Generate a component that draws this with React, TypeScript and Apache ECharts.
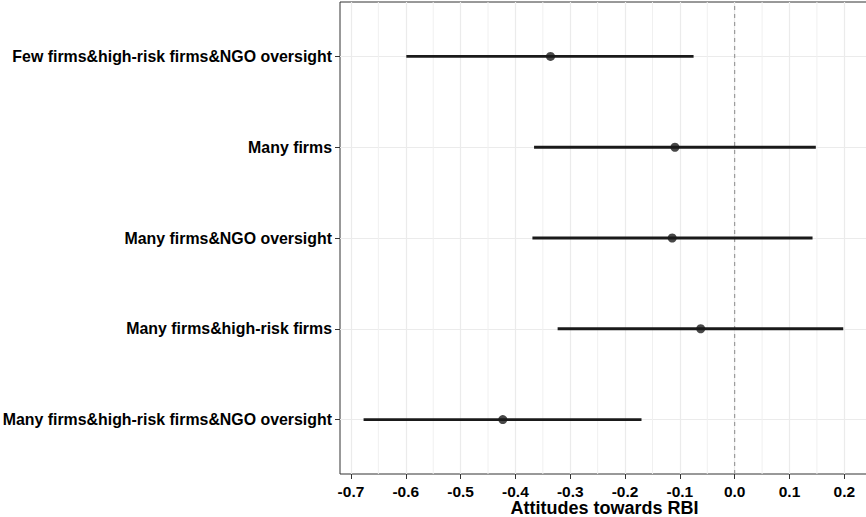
import React, { useEffect, useRef } from 'react';
import * as echarts from 'echarts';

const categories = [
  'Few firms&high-risk firms&NGO oversight',
  'Many firms',
  'Many firms&NGO oversight',
  'Many firms&high-risk firms',
  'Many firms&high-risk firms&NGO oversight',
];
const yPositions = [5, 4, 3, 2, 1];
const estimates = [-0.336, -0.109, -0.114, -0.062, -0.423];
const lowerCI = [-0.599, -0.366, -0.369, -0.323, -0.677];
const upperCI = [-0.075, 0.148, 0.142, 0.198, -0.17];
const xTickValues = [-0.7, -0.6, -0.5, -0.4, -0.3, -0.2, -0.1, 0, 0.1, 0.2];
const xMinorValues = [-0.65, -0.55, -0.45, -0.35, -0.25, -0.15, -0.05, 0.05, 0.15];
const referenceValues = [0];
const xAxisTitle = 'Attitudes towards RBI';

const FONT = '"Liberation Sans", Arial, Helvetica, sans-serif';
const Y_MIN = 0.4;
const Y_MAX = 5.6;

export default function App() {
  const ref = useRef<HTMLDivElement>(null);
  useEffect(() => {
    if (!ref.current) return;
    const chart = echarts.init(ref.current, null, { renderer: 'svg' });
    const option: any = {
      animation: false,
      backgroundColor: '#ffffff',
      grid: {
        left: 340,
        right: -3,
        top: 2,
        bottom: 43,
        containLabel: false,
        outerBoundsMode: 'none',
        show: true,
        borderColor: '#333333',
        borderWidth: 1,
        backgroundColor: 'transparent',
      },
      xAxis: {
        type: 'value',
        min: -0.72,
        max: 0.245,
        splitNumber: 10,
        name: xAxisTitle,
        nameLocation: 'middle',
        nameGap: 25,
        nameMoveOverlap: false,
        nameTextStyle: {
          fontFamily: FONT,
          fontWeight: 'bold',
          fontSize: 18,
          color: '#000',
          verticalAlign: 'top',
        },
        axisLine: { show: false, onZero: false },
        axisTick: {
          show: true,
          length: 5,
          customValues: xTickValues,
          lineStyle: { color: '#333333', width: 1 },
        },
        axisLabel: {
          customValues: xTickValues,
          margin: 9,
          fontFamily: FONT,
          fontWeight: 'bold',
          fontSize: 15.5,
          color: '#000',
          formatter: (v: number) => {
            const r = Math.round(v * 10) / 10;
            return Math.abs(v - r) < 1e-6 ? r.toFixed(1) : '';
          },
        },
        splitLine: { show: true, lineStyle: { color: '#ebebeb', width: 1.2 } },
      },
      yAxis: {
        type: 'value',
        min: Y_MIN,
        max: Y_MAX,
        splitNumber: 5,
        axisLine: { show: false, onZero: false },
        axisTick: {
          show: true,
          length: 5,
          customValues: yPositions,
          lineStyle: { color: '#333333', width: 1 },
        },
        axisLabel: {
          customValues: yPositions,
          margin: 8,
          fontFamily: FONT,
          fontWeight: 'bold',
          fontSize: 15.9,
          color: '#000',
          formatter: (v: number) => {
            const r = Math.round(v);
            if (Math.abs(v - r) > 1e-6) return '';
            const i = yPositions.indexOf(r);
            return i >= 0 ? categories[i] : '';
          },
        },
        splitLine: { show: true, lineStyle: { color: '#ebebeb', width: 1.2 } },
      },
      series: [
        {
          type: 'custom',
          z: 1,
          silent: true,
          data: xMinorValues.map((v) => [v]),
          encode: { x: 0 },
          renderItem: (_p: any, api: any) => {
            const v = api.value(0);
            const a = api.coord([v, Y_MIN]);
            const b = api.coord([v, Y_MAX]);
            return {
              type: 'line',
              shape: { x1: a[0], y1: a[1], x2: b[0], y2: b[1] },
              style: { stroke: '#f0f0f0', lineWidth: 1 },
            };
          },
        },
        {
          type: 'custom',
          z: 2,
          silent: true,
          data: referenceValues.map((v) => [v]),
          encode: { x: 0 },
          renderItem: (_p: any, api: any) => {
            const v = api.value(0);
            const a = api.coord([v, Y_MIN]);
            const b = api.coord([v, Y_MAX]);
            return {
              type: 'line',
              shape: { x1: a[0], y1: a[1], x2: b[0], y2: b[1] },
              style: { stroke: '#8c8c8c', lineWidth: 1, lineDash: [4, 4] },
            };
          },
        },
        {
          type: 'custom',
          z: 3,
          silent: true,
          data: yPositions.map((y, i) => [lowerCI[i], upperCI[i], y]),
          encode: { x: [0, 1], y: 2 },
          renderItem: (_p: any, api: any) => {
            const a = api.coord([api.value(0), api.value(2)]);
            const b = api.coord([api.value(1), api.value(2)]);
            return {
              type: 'line',
              shape: { x1: a[0], y1: a[1], x2: b[0], y2: b[1] },
              style: { stroke: '#1a1a1a', lineWidth: 2.8 },
            };
          },
        },
        {
          type: 'scatter',
          z: 4,
          silent: true,
          symbol: 'circle',
          symbolSize: 9,
          itemStyle: { color: '#1a1a1a' },
          data: yPositions.map((y, i) => [estimates[i], y]),
        },
      ],
    };
    chart.setOption(option);
    return () => chart.dispose();
  }, []);
  return (
    <div
      ref={ref}
      style={{ position: 'fixed', left: 0, top: 0, width: 866, height: 517, background: '#fff' }}
    />
  );
}
